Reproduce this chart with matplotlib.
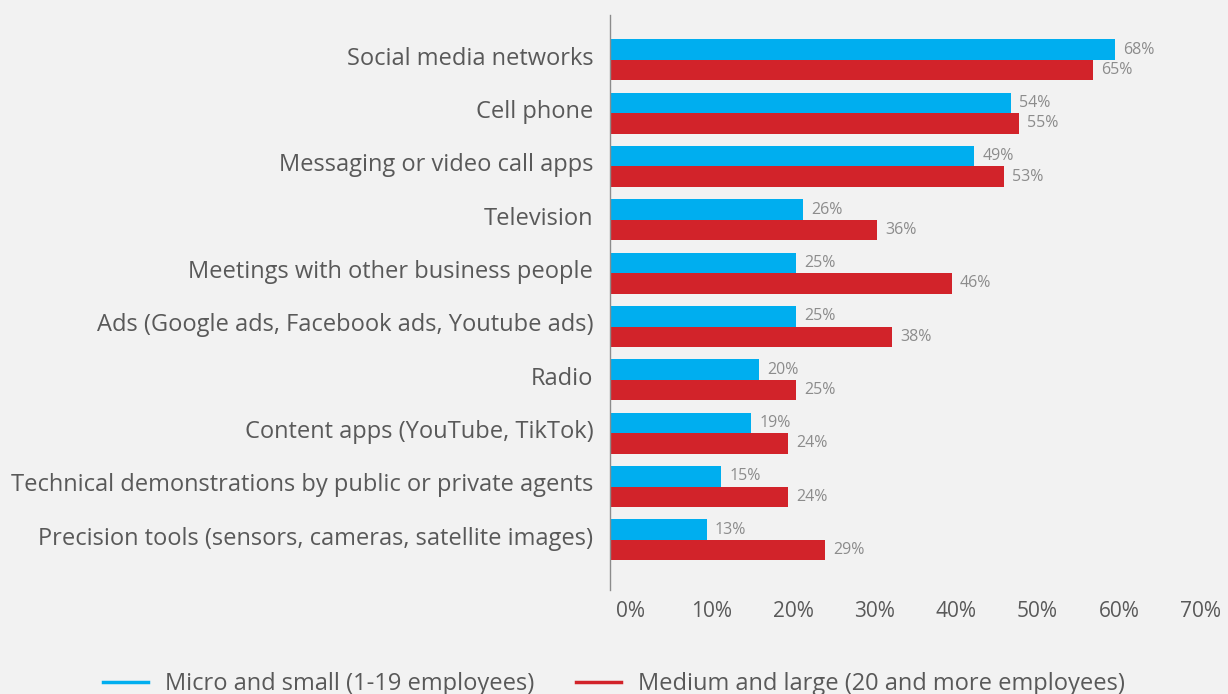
import numpy as np
import matplotlib.pyplot as plt
from matplotlib.lines import Line2D
from matplotlib.transforms import ScaledTranslation

categories = [
    "Social media networks",
    "Cell phone",
    "Messaging or video call apps",
    "Television",
    "Meetings with other business people",
    "Ads (Google ads, Facebook ads, Youtube ads)",
    "Radio",
    "Content apps (YouTube, TikTok)",
    "Technical demonstrations by public or private agents",
    "Precision tools (sensors, cameras, satellite images)",
]
micro_small = [68, 54, 49, 26, 25, 25, 20, 19, 15, 13]
medium_large = [65, 55, 53, 36, 46, 38, 25, 24, 24, 29]
tick_vals = [0, 10, 20, 30, 40, 50, 60, 70]
series_names = ["Micro and small (1-19 employees)",
                "Medium and large (20 and more employees)"]

blue = "#00aeef"
red = "#d2232a"
bg = "#f2f2f2"
txt = "#595959"

plt.rcParams['font.family'] = ['Open Sans', 'DejaVu Sans']

W, H = 1228, 694
fig = plt.figure(figsize=(W / 100, H / 100), dpi=100, facecolor=bg)
ax = fig.add_axes([610 / W, 1 - 590 / H, (1204.4 - 610) / W, (590 - 15) / H])
ax.set_facecolor(bg)

y = np.arange(len(categories))
h = 0.385
ax.barh(y - h / 2, micro_small, height=h, color=blue)
ax.barh(y + h / 2, medium_large, height=h, color=red)

for i in range(len(categories)):
    ax.text(micro_small[i] + 1.1, y[i] - h / 2, f"{micro_small[i]}%",
            va='center', ha='left', fontsize=11.5, color="#8c8c8c")
    ax.text(medium_large[i] + 1.1, y[i] + h / 2, f"{medium_large[i]}%",
            va='center', ha='left', fontsize=11.5, color="#8c8c8c")

ax.set_xlim(0, 80)
ax.set_ylim(9.94, -0.84)
ax.set_yticks(y, categories)
ax.tick_params(axis='y', length=0, pad=12, labelsize=17, labelcolor=txt)
# nudge category names up a little
up = ScaledTranslation(0, 3 / 72, fig.dpi_scale_trans)
for lbl in ax.get_yticklabels():
    lbl.set_transform(lbl.get_transform() + up)
ax.set_xticks([])
for s in ['top', 'right', 'bottom']:
    ax.spines[s].set_visible(False)
ax.spines['left'].set_color("#8c8c8c")
ax.spines['left'].set_linewidth(1)

# percentage scale along the bottom
ax2 = ax.twiny()
ax2.set_xlim(-2.46, 70.49)
ax2.xaxis.set_ticks_position('bottom')
ax2.set_xticks(tick_vals, [f"{v}%" for v in tick_vals])
ax2.tick_params(axis='x', length=0, pad=8, labelsize=15, labelcolor=txt)
for s in ax2.spines.values():
    s.set_visible(False)

handles = [Line2D([0], [0], color=blue, lw=2.5),
           Line2D([0], [0], color=red, lw=2.5)]
fig.legend(handles, series_names, loc='center', bbox_to_anchor=(0.5, 10 / H),
           ncol=2, frameon=False, fontsize=17, labelcolor=txt,
           handlelength=1.9, columnspacing=1.8, handletextpad=0.7)

fig.savefig("out.png", dpi=100, facecolor=bg)
